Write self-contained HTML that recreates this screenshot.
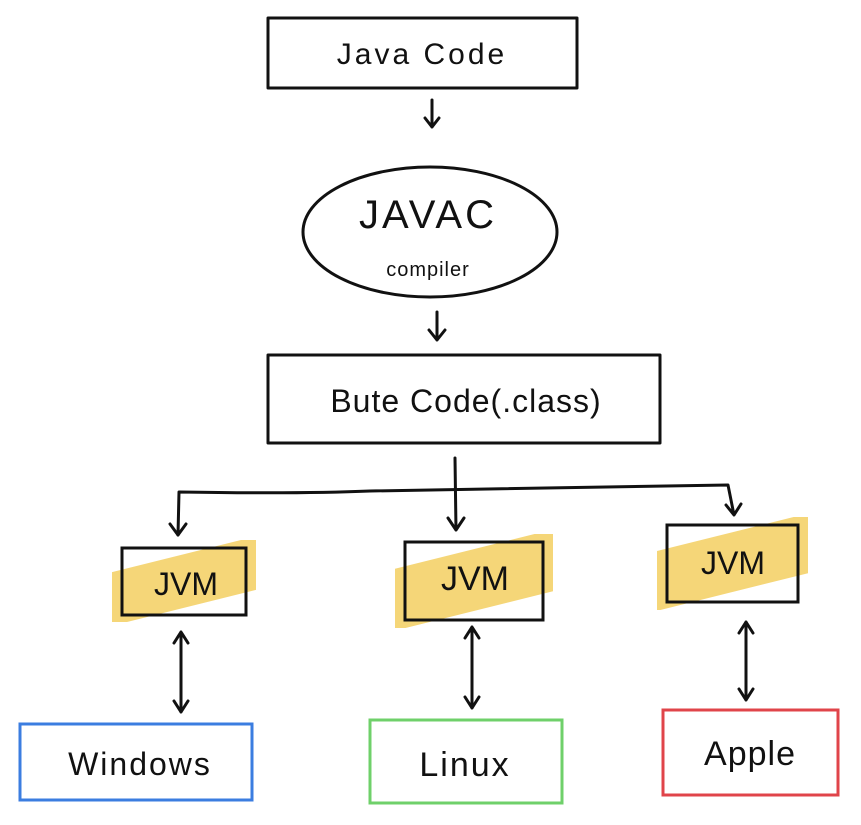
<!DOCTYPE html>
<html><head><style>
body{margin:0;background:#fff;}
svg text{font-family:"Liberation Sans",sans-serif;fill:#111;}
</style></head><body>
<svg width="861" height="820" viewBox="0 0 861 820" xmlns="http://www.w3.org/2000/svg">
<defs>
<clipPath id="c1"><rect x="112" y="540" width="144" height="82"/></clipPath>
<clipPath id="c2"><rect x="395" y="534" width="158" height="94"/></clipPath>
<clipPath id="c3"><rect x="657" y="517" width="151" height="93"/></clipPath>
</defs>
<g fill="none" stroke="#111" stroke-width="3" stroke-linecap="round" stroke-linejoin="round">
<rect x="268" y="18" width="309" height="70"/>
<ellipse cx="430" cy="232" rx="127" ry="65"/>
<rect x="268" y="355" width="392" height="88"/>
<path d="M432 100 L432 127 M425 118 L432 127 L439 118"/>
<path d="M437 312 L437 340 M429 330 L437 340 L445 330"/>
<path d="M455 458 L456 530 M448 518 L456 530 L464 518"/>
<path d="M178 535 L179 492 Q300 494 370 491 Q600 487 728 485 L734 515 M726 505 L734 515 L741 504"/>
<path d="M170 524 L178 535 L186 524"/>
<path d="M181 632 L181 712 M174 643 L181 632 L188 643 M174 701 L181 712 L188 701"/>
<path d="M472 627 L472 708 M465 638 L472 627 L479 638 M465 697 L472 708 L479 697"/>
<path d="M746 622 L746 700 M739 633 L746 622 L753 633 M739 689 L746 700 L753 689"/>
</g>
<g fill="#f2c94c" opacity="0.75">
<g clip-path="url(#c1)"><rect x="100" y="555" width="170" height="52" transform="rotate(-14 184 581)"/></g>
<g clip-path="url(#c2)"><rect x="385" y="550" width="180" height="60" transform="rotate(-14 474 580)"/></g>
<g clip-path="url(#c3)"><rect x="645" y="533" width="175" height="58" transform="rotate(-14 733 562)"/></g>
</g>
<g fill="none" stroke="#111" stroke-width="3">
<rect x="122" y="548" width="124" height="67"/>
<rect x="405" y="542" width="138" height="78"/>
<rect x="667" y="525" width="131" height="77"/>
</g>
<rect x="20" y="724" width="232" height="76" fill="none" stroke="#3b7de0" stroke-width="3"/>
<rect x="370" y="720" width="192" height="83" fill="none" stroke="#6fd06a" stroke-width="3"/>
<rect x="663" y="710" width="175" height="85" fill="none" stroke="#e0444a" stroke-width="3"/>
<text x="422" y="64" font-size="30" text-anchor="middle" letter-spacing="3">Java Code</text>
<text x="428" y="228" font-size="40" text-anchor="middle" letter-spacing="3">JAVAC</text>
<text x="428" y="276" font-size="20" text-anchor="middle" letter-spacing="1">compiler</text>
<text x="466" y="412" font-size="32" text-anchor="middle" letter-spacing="1">Bute Code(.class)</text>
<text x="186" y="595" font-size="32" text-anchor="middle">JVM</text>
<text x="475" y="590" font-size="34" text-anchor="middle">JVM</text>
<text x="733" y="574" font-size="32" text-anchor="middle">JVM</text>
<text x="140" y="775" font-size="32" text-anchor="middle" letter-spacing="2">Windows</text>
<text x="465" y="776" font-size="34" text-anchor="middle" letter-spacing="2">Linux</text>
<text x="750" y="765" font-size="34" text-anchor="middle" letter-spacing="1">Apple</text>
</svg>
</body></html>
